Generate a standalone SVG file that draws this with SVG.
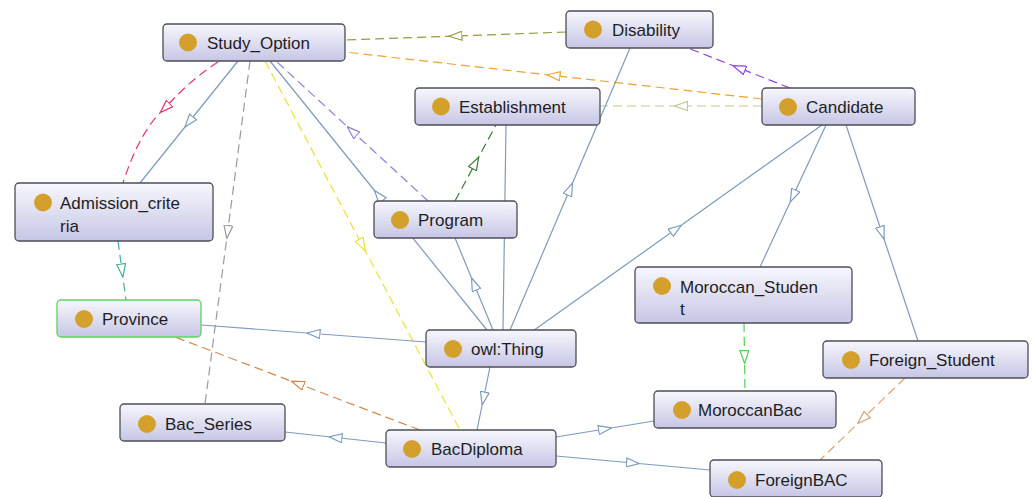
<svg xmlns="http://www.w3.org/2000/svg" width="1035" height="497" viewBox="0 0 1035 497">
<style>
.n rect{fill:url(#g);stroke:#4d4d55;stroke-width:1.3}
.n circle{fill:#d4a02c}
.n text{font-family:"Liberation Sans",Arial,sans-serif;font-size:17px;fill:#1e1e1e}
#Province rect{stroke:#5fd35f}
.e path{fill:none;stroke-width:1.2}
.b{stroke:#7d9bbd;marker-mid:url(#mb)}
.d{stroke-dasharray:9 5}
</style>
<defs>
<linearGradient id="g" x1="0" y1="0" x2="0" y2="1">
<stop offset="0" stop-color="#f7f7fd"/>
<stop offset="1" stop-color="#c6c6e6"/>
</linearGradient>
<marker id="mb" viewBox="0 0 14 10" refX="7" refY="5" markerWidth="14" markerHeight="10" markerUnits="userSpaceOnUse" orient="auto"><path d="M0.5,0.5 L13.5,5 L0.5,9.5 Z" fill="#fff" stroke="#7d9bbd" stroke-width="1.2"/></marker>
<marker id="mred" viewBox="0 0 14 10" refX="7" refY="5" markerWidth="14" markerHeight="10" markerUnits="userSpaceOnUse" orient="auto"><path d="M0.5,0.5 L13.5,5 L0.5,9.5 Z" fill="#fff" stroke="#e8336a" stroke-width="1.2"/></marker>
<marker id="mgray" viewBox="0 0 14 10" refX="7" refY="5" markerWidth="14" markerHeight="10" markerUnits="userSpaceOnUse" orient="auto"><path d="M0.5,0.5 L13.5,5 L0.5,9.5 Z" fill="#fff" stroke="#9a9a9a" stroke-width="1.2"/></marker>
<marker id="myel" viewBox="0 0 14 10" refX="7" refY="5" markerWidth="14" markerHeight="10" markerUnits="userSpaceOnUse" orient="auto"><path d="M0.5,0.5 L13.5,5 L0.5,9.5 Z" fill="#fff" stroke="#ece030" stroke-width="1.2"/></marker>
<marker id="mlav" viewBox="0 0 14 10" refX="7" refY="5" markerWidth="14" markerHeight="10" markerUnits="userSpaceOnUse" orient="auto"><path d="M0.5,0.5 L13.5,5 L0.5,9.5 Z" fill="#fff" stroke="#8a80e0" stroke-width="1.2"/></marker>
<marker id="moli" viewBox="0 0 14 10" refX="7" refY="5" markerWidth="14" markerHeight="10" markerUnits="userSpaceOnUse" orient="auto"><path d="M0.5,0.5 L13.5,5 L0.5,9.5 Z" fill="#fff" stroke="#9a9a40" stroke-width="1.2"/></marker>
<marker id="mora" viewBox="0 0 14 10" refX="7" refY="5" markerWidth="14" markerHeight="10" markerUnits="userSpaceOnUse" orient="auto"><path d="M0.5,0.5 L13.5,5 L0.5,9.5 Z" fill="#fff" stroke="#f0a030" stroke-width="1.2"/></marker>
<marker id="mpur" viewBox="0 0 14 10" refX="7" refY="5" markerWidth="14" markerHeight="10" markerUnits="userSpaceOnUse" orient="auto"><path d="M0.5,0.5 L13.5,5 L0.5,9.5 Z" fill="#fff" stroke="#9040e0" stroke-width="1.2"/></marker>
<marker id="mlol" viewBox="0 0 14 10" refX="7" refY="5" markerWidth="14" markerHeight="10" markerUnits="userSpaceOnUse" orient="auto"><path d="M0.5,0.5 L13.5,5 L0.5,9.5 Z" fill="#fff" stroke="#c4c894" stroke-width="1.2"/></marker>
<marker id="mdgr" viewBox="0 0 14 10" refX="7" refY="5" markerWidth="14" markerHeight="10" markerUnits="userSpaceOnUse" orient="auto"><path d="M0.5,0.5 L13.5,5 L0.5,9.5 Z" fill="#fff" stroke="#3a7a3a" stroke-width="1.2"/></marker>
<marker id="mbro" viewBox="0 0 14 10" refX="7" refY="5" markerWidth="14" markerHeight="10" markerUnits="userSpaceOnUse" orient="auto"><path d="M0.5,0.5 L13.5,5 L0.5,9.5 Z" fill="#fff" stroke="#d08850" stroke-width="1.2"/></marker>
<marker id="mtea" viewBox="0 0 14 10" refX="7" refY="5" markerWidth="14" markerHeight="10" markerUnits="userSpaceOnUse" orient="auto"><path d="M0.5,0.5 L13.5,5 L0.5,9.5 Z" fill="#fff" stroke="#40b0a0" stroke-width="1.2"/></marker>
<marker id="mgrn" viewBox="0 0 14 10" refX="7" refY="5" markerWidth="14" markerHeight="10" markerUnits="userSpaceOnUse" orient="auto"><path d="M0.5,0.5 L13.5,5 L0.5,9.5 Z" fill="#fff" stroke="#50d050" stroke-width="1.2"/></marker>
<marker id="mtan" viewBox="0 0 14 10" refX="7" refY="5" markerWidth="14" markerHeight="10" markerUnits="userSpaceOnUse" orient="auto"><path d="M0.5,0.5 L13.5,5 L0.5,9.5 Z" fill="#fff" stroke="#e0a070" stroke-width="1.2"/></marker>
</defs>
<rect width="1035" height="497" fill="#fff"/>
<g id="connectors" class="e">
<path class="b" d="M238,61 L189,122 L140,183"/>
<path class="d" stroke="#e8336a" marker-mid="url(#mred)" d="M218,62 Q190,80 165,108 Q140,130 123,183"/>
<path class="d" stroke="#9a9a9a" marker-mid="url(#mgray)" d="M250,61 L227.6,232 L205,404"/>
<path class="d" stroke="#ece030" marker-mid="url(#myel)" d="M265,61 L362.2,245 L460,430"/>
<path class="b" d="M487,330 L378.5,195.5 L270,61"/>
<path class="d" stroke="#8a80e0" marker-mid="url(#mlav)" d="M428,201 L352,131 L276,61"/>
<path class="d" stroke="#9a9a40" marker-mid="url(#moli)" d="M566,32 L455.5,36 L345,40"/>
<path class="d" stroke="#f0a030" marker-mid="url(#mora)" d="M762,99 L553.5,75.5 L345,52"/>
<path class="d" stroke="#9040e0" marker-mid="url(#mpur)" d="M790,88 L739,68 L688,48"/>
<path class="d" stroke="#c4c894" marker-mid="url(#mlol)" d="M762,106 L681,106 L600,106"/>
<path class="d" stroke="#3a7a3a" marker-mid="url(#mdgr)" d="M455,201 L475.5,163 L496,125"/>
<path class="b" d="M503,330 L504.5,227.5 L506,125"/>
<path class="b" d="M510,330 L570,189 L630,48"/>
<path class="b" d="M530,333 L676,229 L822,125"/>
<path class="b" d="M493,330 L474,284 L455,238"/>
<path class="b" d="M426,342 L313.5,333.5 L201,325"/>
<path class="b" d="M490,367 L483.5,398.5 L477,430"/>
<path class="d" stroke="#d08850" marker-mid="url(#mbro)" d="M420,430 L297.5,383.5 L175,337"/>
<path class="b" d="M386,443 L335.5,437.5 L285,432"/>
<path class="b" d="M556,437 L605,429 L654,421"/>
<path class="b" d="M556,456 L633,463 L710,470"/>
<path class="d" stroke="#40b0a0" marker-mid="url(#mtea)" d="M118,241 L122,270.5 L126,300"/>
<path class="d" stroke="#50d050" marker-mid="url(#mgrn)" d="M744,323 L744.5,357 L745,391"/>
<path class="d" stroke="#e0a070" marker-mid="url(#mtan)" d="M905,378 L862.5,419 L820,460"/>
<path class="b" d="M826,125 L793,196 L760,267"/>
<path class="b" d="M846,125 L882,233 L918,341"/>
</g>
<g id="Study_Option" class="n"><rect x="163" y="24" width="182" height="37" rx="4"/><circle cx="188" cy="42.5" r="9"/><text x="207" y="49">Study_Option</text></g>
<g id="Disability" class="n"><rect x="566" y="11" width="147" height="37" rx="4"/><circle cx="593" cy="29.5" r="9"/><text x="612" y="36">Disability</text></g>
<g id="Establishment" class="n"><rect x="415" y="88" width="185" height="37" rx="4"/><circle cx="441" cy="106.5" r="9"/><text x="459" y="113">Establishment</text></g>
<g id="Candidate" class="n"><rect x="762" y="88" width="153" height="37" rx="4"/><circle cx="788" cy="107" r="9"/><text x="806" y="113">Candidate</text></g>
<g id="Admission_criteria" class="n"><rect x="15" y="183" width="198" height="58" rx="4"/><circle cx="43" cy="202.5" r="9"/><text x="60" y="209">Admission_crite</text><text x="60" y="232">ria</text></g>
<g id="Program" class="n"><rect x="374" y="201" width="143" height="37" rx="4"/><circle cx="400" cy="220" r="9"/><text x="418" y="226">Program</text></g>
<g id="Moroccan_Student" class="n"><rect x="635" y="267" width="217" height="56" rx="4"/><circle cx="662" cy="286" r="9"/><text x="680" y="293">Moroccan_Studen</text><text x="680" y="315">t</text></g>
<g id="Province" class="n"><rect x="57" y="300" width="144" height="37" rx="4"/><circle cx="84" cy="319" r="9"/><text x="102" y="325">Province</text></g>
<g id="owl_Thing" class="n"><rect x="426" y="330" width="150" height="37" rx="4"/><circle cx="453" cy="349" r="9"/><text x="471" y="355">owl:Thing</text></g>
<g id="Foreign_Student" class="n"><rect x="823" y="341" width="205" height="37" rx="4"/><circle cx="851" cy="360" r="9"/><text x="869" y="366">Foreign_Student</text></g>
<g id="Bac_Series" class="n"><rect x="120" y="404" width="165" height="37" rx="4"/><circle cx="147" cy="424" r="9"/><text x="165" y="430">Bac_Series</text></g>
<g id="MoroccanBac" class="n"><rect x="654" y="391" width="182" height="37" rx="4"/><circle cx="682" cy="410" r="9"/><text x="698" y="416">MoroccanBac</text></g>
<g id="BacDiploma" class="n"><rect x="386" y="430" width="170" height="37" rx="4"/><circle cx="412" cy="449" r="9"/><text x="431" y="455">BacDiploma</text></g>
<g id="ForeignBAC" class="n"><rect x="710" y="460" width="172" height="37" rx="4"/><circle cx="737" cy="480" r="9"/><text x="755" y="486">ForeignBAC</text></g>
</svg>
